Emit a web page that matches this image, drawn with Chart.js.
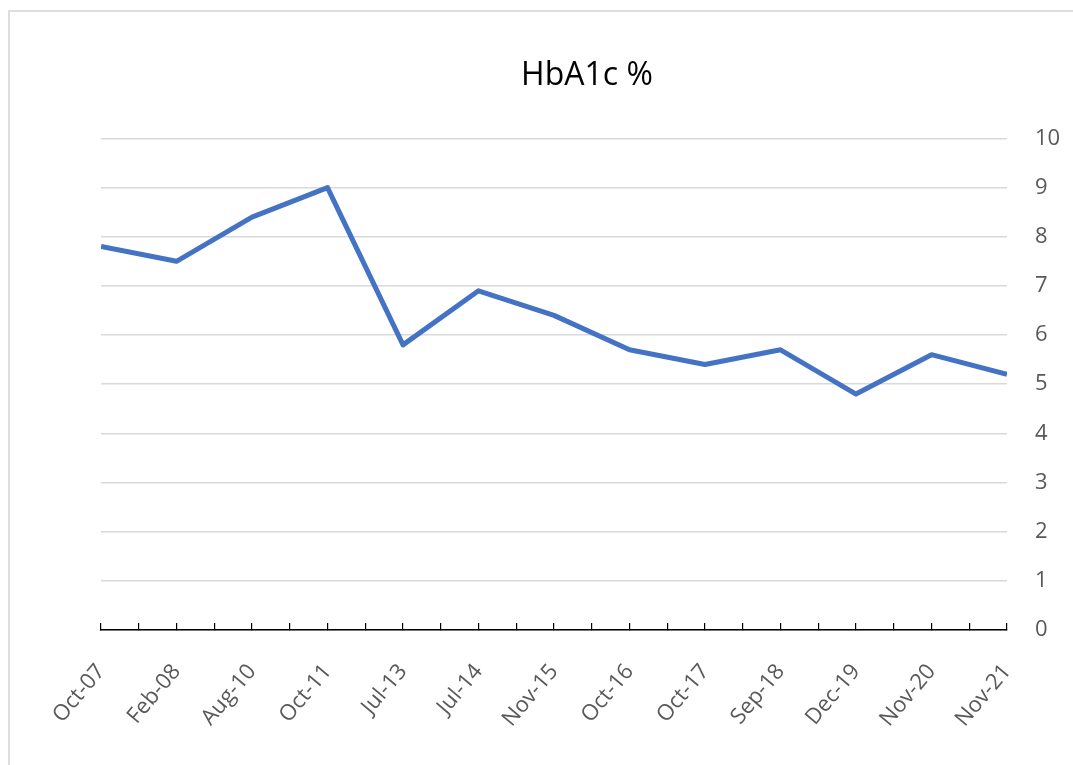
<!DOCTYPE html>
<html>
<head>
<meta charset="utf-8">
<script src="https://cdn.jsdelivr.net/npm/chart.js@4"></script>
<style>
  html, body { margin: 0; padding: 0; background: #fff; }
  #wrap { position: relative; width: 1073px; height: 765px; }
  #frame { position: absolute; left: 8px; top: 10px; right: 0; bottom: 0;
           border-top: 2px solid #dedede; border-left: 2px solid #dedede; }
  canvas { position: absolute; left: 0; top: 0; }
</style>
</head>
<body>
<div id="wrap">
  <div id="frame"></div>
  <canvas id="chart" width="1073" height="765"></canvas>
</div>
<script>
// data
var months = ['Oct-07', 'Feb-08', 'Aug-10', 'Oct-11', 'Jul-13', 'Jul-14', 'Nov-15',
              'Oct-16', 'Oct-17', 'Sep-18', 'Dec-19', 'Nov-20', 'Nov-21'];
var hba1c = [7.8, 7.5, 8.4, 9.0, 5.8, 6.9, 6.4, 5.7, 5.4, 5.7, 4.8, 5.6, 5.2];
var yTicks = [0, 1, 2, 3, 4, 5, 6, 7, 8, 9, 10];

// linear x axis so the half-step minor ticks show between months
var points = hba1c.map(function (v, i) { return { x: i, y: v }; });

var ctx = document.getElementById('chart').getContext('2d');
var myChart = new Chart(ctx, {
  type: 'line',
  data: {
    datasets: [{
      label: 'HbA1c %',
      data: points,
      borderColor: '#4472C4',
      borderWidth: 5,
      borderJoinStyle: 'round',
      pointRadius: 0,
      tension: 0,
      fill: false
    }]
  },
  options: {
    responsive: false,
    animation: false,
    layout: { padding: { left: 101, right: 0, top: 0, bottom: 0 } },
    plugins: {
      legend: { display: false },
      tooltip: { enabled: false },
      title: {
        display: true,
        text: 'HbA1c %',
        color: '#000',
        font: { family: 'Open Sans', size: 32, weight: 'normal' },
        padding: { top: 57, bottom: 43 }
      }
    },
    scales: {
      x: {
        type: 'linear',
        min: 0,
        max: months.length - 1,
        afterBuildTicks: function (scale) {
          var t = [];
          for (var i = 0; i <= (months.length - 1) * 2; i++) t.push({ value: i / 2 });
          scale.ticks = t;
        },
        afterFit: function (scale) { scale.height = 135; },
        grid: {
          drawOnChartArea: false,
          drawTicks: true,
          tickLength: -7,
          color: '#000',
          lineWidth: 1.2
        },
        border: { display: true, color: '#000', width: 1.5 },
        ticks: {
          autoSkip: false,
          minRotation: 50,
          maxRotation: 50,
          padding: 36,
          color: '#595959',
          font: { family: 'Open Sans', size: 22 },
          callback: function (value) {
            return Number.isInteger(value) ? months[value] : '';
          }
        }
      },
      y: {
        position: 'right',
        min: yTicks[0],
        max: yTicks[yTicks.length - 1],
        afterBuildTicks: function (scale) {
          scale.ticks = yTicks.map(function (v) { return { value: v }; });
        },
        afterFit: function (scale) { scale.width = 66; },
        grid: { color: '#d9d9d9', lineWidth: 1.5, drawTicks: false },
        border: { display: false },
        ticks: {
          padding: 28,
          color: '#595959',
          font: { family: 'Open Sans', size: 22 }
        }
      }
    }
  }
});
</script>
</body>
</html>
